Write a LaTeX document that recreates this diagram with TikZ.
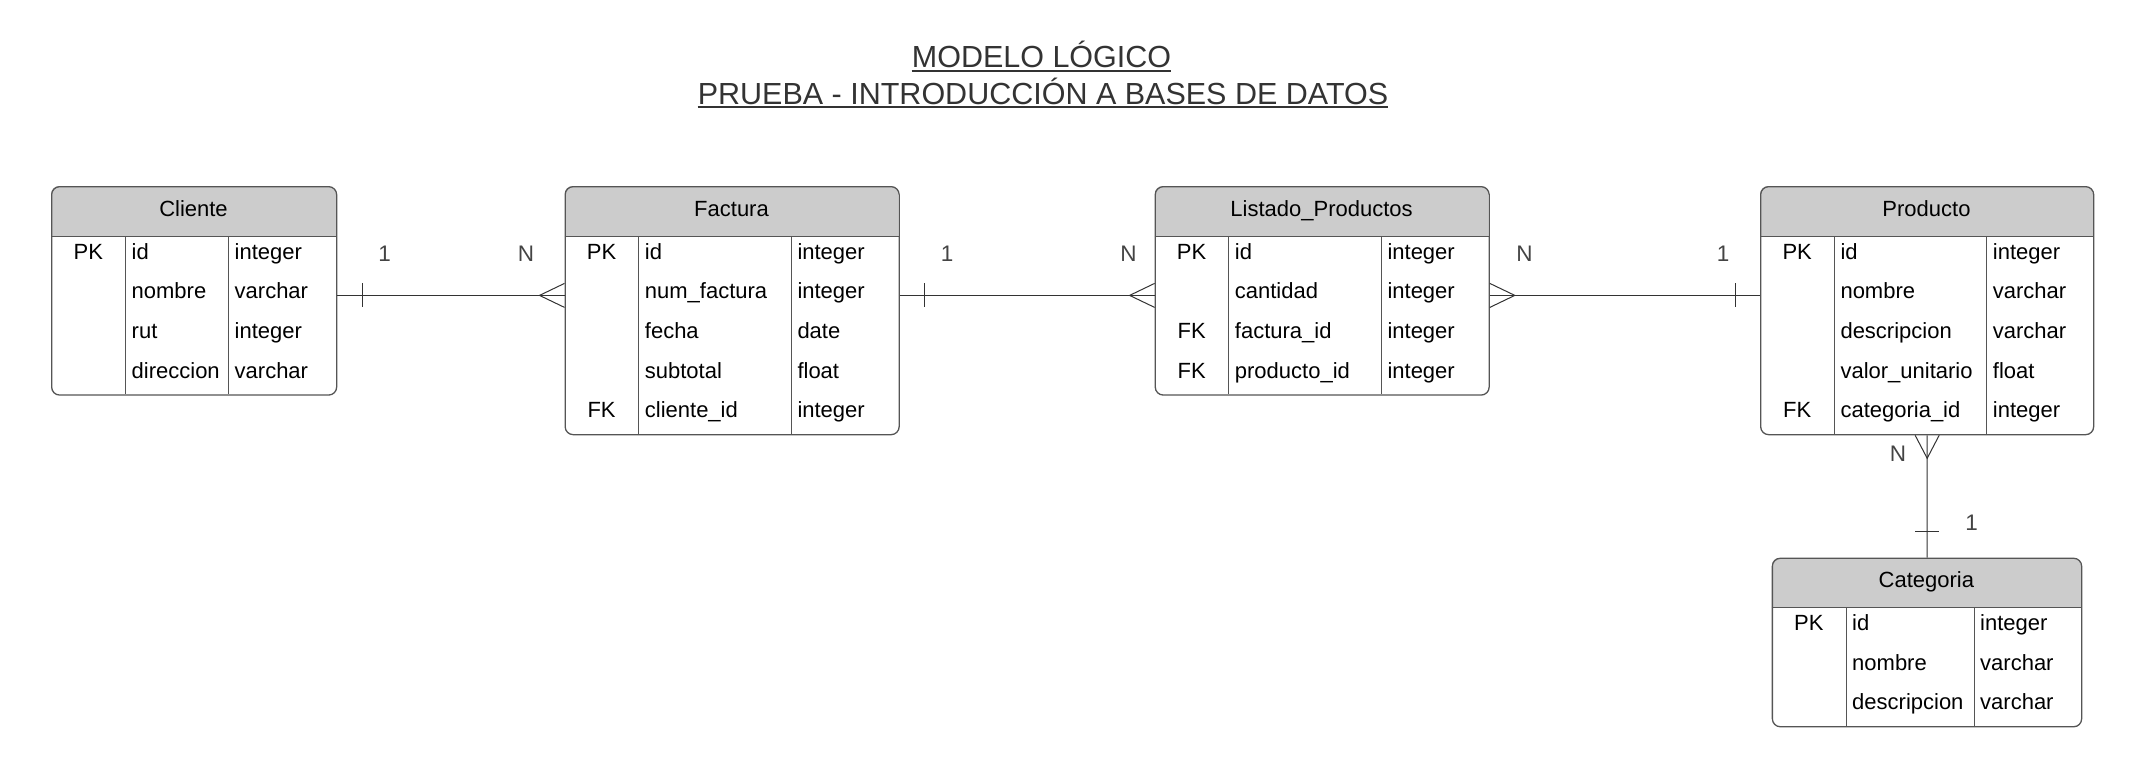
\documentclass[tikz,border=0pt]{standalone}
\usepackage{fontspec}
\setmainfont{Liberation Sans}
\usetikzlibrary{positioning, calc}
\definecolor{hdrgray}{HTML}{CCCCCC}
\definecolor{boxline}{HTML}{555555}
\definecolor{relline}{HTML}{333333}
\definecolor{titlegray}{HTML}{333333}
\definecolor{lblgray}{HTML}{444444}

\begin{document}
\begin{tikzpicture}[x=1pt, y=-1pt,
  tablebox/.style={draw=boxline, line width=1.3pt, rounded corners=8pt, inner sep=0pt, anchor=north west},
  divline/.style={draw=boxline, line width=1pt},
  hdrtext/.style={font=\fontsize{22}{26}\selectfont, text height=15pt, text depth=5pt, inner sep=0pt},
  keycell/.style={font=\fontsize{22}{26}\selectfont, text height=12pt, text depth=5pt, inner sep=0pt},
  namecell/.style={keycell, anchor=west},
  rel/.style={draw=relline, line width=1pt},
  card/.style={font=\fontsize{22.5}{26}\selectfont, text=lblgray, inner sep=0pt},
  titletext/.style={font=\fontsize{30.5}{36}\selectfont, text=titlegray, inner sep=0pt, text depth=0pt, anchor=base}]

\path[use as bounding box] (0,0) rectangle (2146,772);

% Title
\node[titletext] (title1) at (1041.5,67.7) {MODELO LÓGICO};
\draw[titlegray, line width=2pt] ($(title1.south west)+(0,3)$) -- ($(title1.south east)+(0,3)$);
\node[titletext] (title2) at (1043,104) {PRUEBA - INTRODUCCIÓN A BASES DE DATOS};
\draw[titlegray, line width=2pt] ($(title2.south west)+(0,3)$) -- ($(title2.south east)+(0,3)$);

% --- Cliente ---
\begin{scope}
\clip[rounded corners=8pt] (51,186) rectangle (336,394.4);
\fill[hdrgray] (51,186) rectangle (336,236);
\end{scope}
\node[tablebox, minimum width=285pt, minimum height=208.4pt] (cliente) at (51,186) {};
\node[hdrtext] (cli-hdr) at (193.5,211) {Cliente};
\draw[divline] (51,236) -- (336,236) (125.5,236) -- (125.5,394.4) (228.5,236) -- (228.5,394.4);
\node[keycell] (cli-k1) at (88.25,255.8) {PK};
\node[namecell] (cli-n1) at (131.5,255.8) {id};        \node[namecell] (cli-t1) at (234.5,255.8) {integer};
\node[namecell] (cli-n2) at (131.5,295.4) {nombre};    \node[namecell] (cli-t2) at (234.5,295.4) {varchar};
\node[namecell] (cli-n3) at (131.5,335) {rut};         \node[namecell] (cli-t3) at (234.5,335) {integer};
\node[namecell] (cli-n4) at (131.5,374.6) {direccion}; \node[namecell] (cli-t4) at (234.5,374.6) {varchar};

% --- Factura ---
\begin{scope}
\clip[rounded corners=8pt] (564.5,186) rectangle (898.5,434);
\fill[hdrgray] (564.5,186) rectangle (898.5,236);
\end{scope}
\node[tablebox, minimum width=334pt, minimum height=248pt] (factura) at (564.5,186) {};
\node[hdrtext] (fac-hdr) at (731.5,211) {Factura};
\draw[divline] (564.5,236) -- (898.5,236) (638.7,236) -- (638.7,434) (791.3,236) -- (791.3,434);
\node[keycell] (fac-k1) at (601.6,255.8) {PK};
\node[keycell] (fac-k5) at (601.6,414.2) {FK};
\node[namecell] (fac-n1) at (644.7,255.8) {id};          \node[namecell] (fac-t1) at (797.3,255.8) {integer};
\node[namecell] (fac-n2) at (644.7,295.4) {num\_factura}; \node[namecell] (fac-t2) at (797.3,295.4) {integer};
\node[namecell] (fac-n3) at (644.7,335) {fecha};         \node[namecell] (fac-t3) at (797.3,335) {date};
\node[namecell] (fac-n4) at (644.7,374.6) {subtotal};    \node[namecell] (fac-t4) at (797.3,374.6) {float};
\node[namecell] (fac-n5) at (644.7,414.2) {cliente\_id}; \node[namecell] (fac-t5) at (797.3,414.2) {integer};

% --- Listado_Productos ---
\begin{scope}
\clip[rounded corners=8pt] (1154.6,186) rectangle (1488.5,394.4);
\fill[hdrgray] (1154.6,186) rectangle (1488.5,236);
\end{scope}
\node[tablebox, minimum width=333.9pt, minimum height=208.4pt] (listado) at (1154.6,186) {};
\node[hdrtext] (lis-hdr) at (1321.55,211) {Listado\_Productos};
\draw[divline] (1154.6,236) -- (1488.5,236) (1228.7,236) -- (1228.7,394.4) (1381.3,236) -- (1381.3,394.4);
\node[keycell] (lis-k1) at (1191.65,255.8) {PK};
\node[keycell] (lis-k3) at (1191.65,335) {FK};
\node[keycell] (lis-k4) at (1191.65,374.6) {FK};
\node[namecell] (lis-n1) at (1234.7,255.8) {id};           \node[namecell] (lis-t1) at (1387.3,255.8) {integer};
\node[namecell] (lis-n2) at (1234.7,295.4) {cantidad};     \node[namecell] (lis-t2) at (1387.3,295.4) {integer};
\node[namecell] (lis-n3) at (1234.7,335) {factura\_id};    \node[namecell] (lis-t3) at (1387.3,335) {integer};
\node[namecell] (lis-n4) at (1234.7,374.6) {producto\_id}; \node[namecell] (lis-t4) at (1387.3,374.6) {integer};

% --- Producto ---
\begin{scope}
\clip[rounded corners=8pt] (1760,186) rectangle (2093,434);
\fill[hdrgray] (1760,186) rectangle (2093,236);
\end{scope}
\node[tablebox, minimum width=333pt, minimum height=248pt] (producto) at (1760,186) {};
\node[hdrtext] (pro-hdr) at (1926.5,211) {Producto};
\draw[divline] (1760,236) -- (2093,236) (1834.3,236) -- (1834.3,434) (1986.7,236) -- (1986.7,434);
\node[keycell] (pro-k1) at (1797.15,255.8) {PK};
\node[keycell] (pro-k5) at (1797.15,414.2) {FK};
\node[namecell] (pro-n1) at (1840.3,255.8) {id};              \node[namecell] (pro-t1) at (1992.7,255.8) {integer};
\node[namecell] (pro-n2) at (1840.3,295.4) {nombre};          \node[namecell] (pro-t2) at (1992.7,295.4) {varchar};
\node[namecell] (pro-n3) at (1840.3,335) {descripcion};       \node[namecell] (pro-t3) at (1992.7,335) {varchar};
\node[namecell] (pro-n4) at (1840.3,374.6) {valor\_unitario}; \node[namecell] (pro-t4) at (1992.7,374.6) {float};
\node[namecell] (pro-n5) at (1840.3,414.2) {categoria\_id};   \node[namecell] (pro-t5) at (1992.7,414.2) {integer};

% --- Categoria ---
\begin{scope}
\clip[rounded corners=8pt] (1771.7,557.6) rectangle (2081,726.1);
\fill[hdrgray] (1771.7,557.6) rectangle (2081,607.3);
\end{scope}
\node[tablebox, minimum width=309.3pt, minimum height=168.5pt] (categoria) at (1771.7,557.6) {};
\node[hdrtext] (cat-hdr) at (1926.35,582.45) {Categoria};
\draw[divline] (1771.7,607.3) -- (2081,607.3) (1846,607.3) -- (1846,726.1) (1974,607.3) -- (1974,726.1);
\node[keycell] (cat-k1) at (1808.85,627.1) {PK};
\node[namecell] (cat-n1) at (1852,627.1) {id};          \node[namecell] (cat-t1) at (1980,627.1) {integer};
\node[namecell] (cat-n2) at (1852,666.7) {nombre};      \node[namecell] (cat-t2) at (1980,666.7) {varchar};
\node[namecell] (cat-n3) at (1852,706.3) {descripcion}; \node[namecell] (cat-t3) at (1980,706.3) {varchar};

% Cliente 1 -- N Factura
\draw[rel] (cli-n2 -| cliente.east) -- (fac-n2 -| factura.west);
\draw[rel] ($(cli-n2 -| cliente.east)+(25,-12)$) -- ($(cli-n2 -| cliente.east)+(25,12)$);
\draw[rel] ($(fac-n2 -| factura.west)+(0,-12)$) -- ($(fac-n2 -| factura.west)+(-25,0)$) -- ($(fac-n2 -| factura.west)+(0,12)$);
\node[card] (cf-one) at (384.6,254) {1};
\node[card] (cf-many) at (526,254) {N};

% Factura 1 -- N Listado_Productos
\draw[rel] (fac-n2 -| factura.east) -- (lis-n2 -| listado.west);
\draw[rel] ($(fac-n2 -| factura.east)+(25,-12)$) -- ($(fac-n2 -| factura.east)+(25,12)$);
\draw[rel] ($(lis-n2 -| listado.west)+(0,-12)$) -- ($(lis-n2 -| listado.west)+(-25,0)$) -- ($(lis-n2 -| listado.west)+(0,12)$);
\node[card] (fl-one) at (947,254) {1};
\node[card] (fl-many) at (1128.5,254) {N};

% Listado_Productos N -- 1 Producto
\draw[rel] (lis-n2 -| listado.east) -- (pro-n2 -| producto.west);
\draw[rel] ($(lis-n2 -| listado.east)+(0,-12)$) -- ($(lis-n2 -| listado.east)+(25,0)$) -- ($(lis-n2 -| listado.east)+(0,12)$);
\draw[rel] ($(pro-n2 -| producto.west)+(-25,-12)$) -- ($(pro-n2 -| producto.west)+(-25,12)$);
\node[card] (lp-many) at (1524.6,254) {N};
\node[card] (lp-one) at (1723,254) {1};

% Producto N -- 1 Categoria
\draw[rel] (producto.south) -- (categoria.north);
\draw[rel] ($(producto.south)+(-12,0)$) -- ($(producto.south)+(0,23)$) -- ($(producto.south)+(12,0)$);
\draw[rel] ($(categoria.north)+(-12,-26)$) -- ($(categoria.north)+(12,-26)$);
\node[card] (pc-many) at (1898,453.5) {N};
\node[card] (pc-one) at (1971.7,523) {1};

\end{tikzpicture}
\end{document}
